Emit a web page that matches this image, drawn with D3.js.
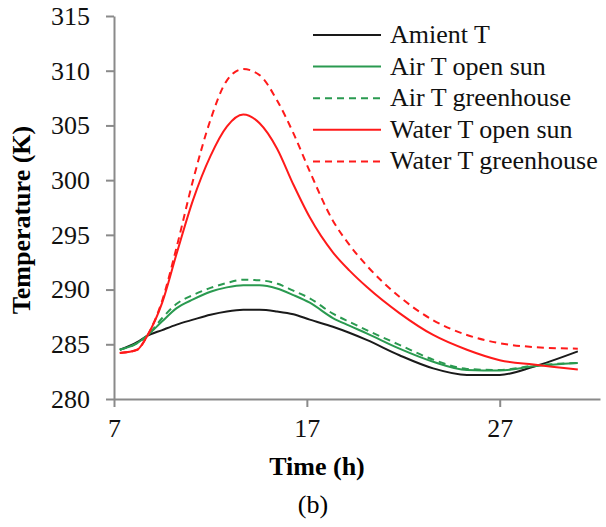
<!DOCTYPE html>
<html>
<head>
<meta charset="utf-8">
<script src="https://cdn.jsdelivr.net/npm/d3@7"></script>
<style>
  body { margin: 0; background: #fff; }
  svg { display: block; font-family: "Liberation Serif", "Times New Roman", serif; }
</style>
</head>
<body>
<svg id="chart" width="606" height="527"></svg>
<script>
// time (h)
var time = [7.3, 8.2, 8.7, 9.5, 10.25, 11.1, 12, 12.85, 13.7, 14.55, 15.45, 16.3, 17.15, 18.35, 19.2, 20.1, 21.8, 23.55, 25.3, 27, 28.75, 31.05];

// temperatures (K)
var ambientT = [284.5, 285.2, 285.75, 286.3, 286.8, 287.25, 287.7, 288.0, 288.15, 288.15, 288.0, 287.75, 287.25, 286.6, 286.05, 285.4, 284.0, 282.8, 282.2, 282.2, 282.95, 284.35];
var airOpen = [284.5, 285.1, 285.75, 287.1, 288.3, 289.1, 289.8, 290.2, 290.4, 290.4, 290.1, 289.5, 288.8, 287.4, 286.7, 286.0, 284.6, 283.4, 282.65, 282.6, 283.0, 283.3];
var airGreen = [284.5, 285.1, 285.75, 287.4, 288.7, 289.5, 290.15, 290.6, 290.9, 290.85, 290.55, 289.9, 289.2, 287.8, 287.05, 286.3, 284.95, 283.6, 282.75, 282.65, 283.05, 283.3];
var waterOpen = [284.2, 284.5, 285.7, 288.8, 293.3, 298.2, 302.2, 304.9, 306.0, 305.2, 302.9, 299.6, 296.6, 293.4, 291.75, 290.25, 287.85, 285.85, 284.5, 283.55, 283.15, 282.7];
var waterGreen = [284.2, 284.5, 285.7, 289.0, 293.9, 300.0, 305.5, 309.1, 310.15, 309.6, 307.3, 304.3, 300.8, 296.3, 294.1, 292.2, 289.35, 287.2, 285.85, 285.1, 284.75, 284.6];

var xTicks = [7, 17, 27];
var yTicks = [280, 285, 290, 295, 300, 305, 310, 315];

var series = [
    { name: "Amient T", values: ambientT, color: "#1a1a1a", dash: null },
    { name: "Air T open sun", values: airOpen, color: "#2a9a50", dash: null },
    { name: "Air T greenhouse", values: airGreen, color: "#2a9a50", dash: "7,5" },
    { name: "Water T open sun", values: waterOpen, color: "#ff1a1a", dash: null },
    { name: "Water T greenhouse", values: waterGreen, color: "#ff1a1a", dash: "7,5" }
];

var svg = d3.select("#chart");

const margin = { top: 16, right: 6, bottom: 128, left: 114 };
const width = 606, height = 527;

var xScale = d3.scaleLinear()
    .domain([7, 32.2])
    .range([margin.left, width - margin.right]);

var yScale = d3.scaleLinear()
    .domain([280, 315])
    .range([height - margin.bottom, margin.top]);

// axes
var xAxis = svg.append("g")
    .attr("transform", `translate(0,${yScale(280)})`)
    .call(d3.axisBottom(xScale).tickValues(xTicks).tickSize(8).tickPadding(12).tickSizeOuter(0));

var yAxis = svg.append("g")
    .attr("transform", `translate(${xScale(7)},0)`)
    .call(d3.axisLeft(yScale).tickValues(yTicks).tickSize(8).tickPadding(16).tickSizeOuter(0));

[xAxis, yAxis].forEach(function (ax) {
    ax.select(".domain").attr("stroke", "#8a8a8a").attr("stroke-width", 2);
    ax.selectAll(".tick line").attr("stroke", "#8a8a8a").attr("stroke-width", 2);
    ax.selectAll(".tick text")
        .attr("fill", "#111")
        .style("font-size", "26px")
        .style("font-family", "Liberation Serif, serif");
});

// lines
var line = d3.line()
    .x(function (d, i) { return xScale(time[i]); })
    .y(function (d) { return yScale(d); })
    .curve(d3.curveMonotoneX);

svg.selectAll(".series")
    .data(series)
    .enter()
    .append("path")
    .attr("class", "series")
    .attr("fill", "none")
    .attr("stroke", function (d) { return d.color; })
    .attr("stroke-width", 2)
    .attr("stroke-dasharray", function (d) { return d.dash; })
    .attr("d", function (d) { return line(d.values); });

// axis labels
svg.append("text")
    .attr("x", 317)
    .attr("y", 475)
    .style("text-anchor", "middle")
    .style("font-weight", "bold")
    .style("font-size", "26px")
    .text("Time (h)");

svg.append("text")
    .attr("transform", "rotate(-90)")
    .attr("x", -220)
    .attr("y", 30)
    .style("text-anchor", "middle")
    .style("font-weight", "bold")
    .style("font-size", "26px")
    .text("Temperature (K)");

svg.append("text")
    .attr("x", 313)
    .attr("y", 513)
    .style("text-anchor", "middle")
    .style("font-size", "26px")
    .text("(b)");

// legend
var legend = svg.append("g")
    .attr("transform", "translate(313,35)");

legend.selectAll(".legend-item")
    .data(series)
    .enter()
    .append("g")
    .attr("class", "legend-item")
    .attr("transform", function (d, i) { return `translate(0, ${i * 31.6})`; })
    .each(function (d) {
        d3.select(this).append("line")
            .attr("x1", 0)
            .attr("x2", 68)
            .attr("stroke", d.color)
            .attr("stroke-width", 2)
            .attr("stroke-dasharray", d.dash);

        d3.select(this).append("text")
            .attr("x", 77)
            .attr("y", 8)
            .style("font-size", "26px")
            .attr("fill", "#111")
            .text(d.name);
    });
</script>
</body>
</html>
